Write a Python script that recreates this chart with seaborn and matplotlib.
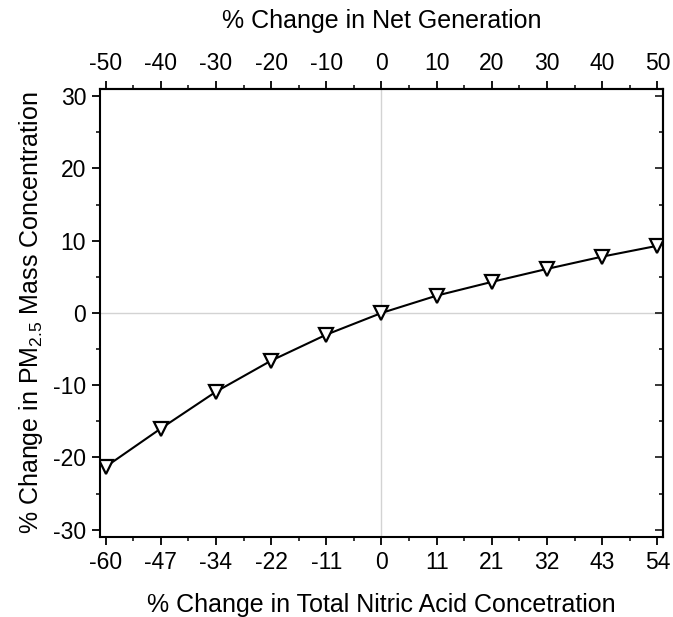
import numpy as np
import pandas as pd
import matplotlib
matplotlib.use("Agg")
import matplotlib.pyplot as plt
import seaborn as sns
from matplotlib.ticker import MultipleLocator

# data
net_generation = [-50, -40, -30, -20, -10, 0, 10, 20, 30, 40, 50]
nitric_labels = ["-60", "-47", "-34", "-22", "-11", "0", "11", "21", "32", "43", "54"]
pm25_change = [-21.3, -16.0, -10.9, -6.6, -3.0, 0.0, 2.4, 4.3, 6.1, 7.8, 9.3]

sns.set_theme(style="ticks")
plt.rcParams['font.family'] = ['Liberation Sans', 'DejaVu Sans']
plt.rcParams['mathtext.fontset'] = 'custom'
plt.rcParams['mathtext.rm'] = 'Liberation Sans'
plt.rcParams['mathtext.it'] = 'Liberation Sans'
plt.rcParams['axes.unicode_minus'] = False
plt.rcParams['text.color'] = 'black'
plt.rcParams['axes.labelcolor'] = 'black'

df = pd.DataFrame({'gen': net_generation, 'pm': pm25_change})

fig = plt.figure(figsize=(6.73, 6.17), dpi=100)
ax = fig.add_axes([0.1486, 0.1297, 0.8365, 0.7261])

# reference lines at zero
ax.axvline(0, color='#d3d3d3', lw=1, zorder=0)
ax.axhline(0, color='#d3d3d3', lw=1, zorder=0)

sns.lineplot(data=df, x='gen', y='pm', ax=ax, color='black', lw=1.5,
             marker='v', markersize=10, markerfacecolor='white',
             markeredgecolor='black', markeredgewidth=1.6)

ax.set_xlim(-51, 51)
ax.set_ylim(-31, 31)

ax.set_xticks(net_generation)
ax.set_xticklabels(nitric_labels)
ax.xaxis.set_minor_locator(MultipleLocator(5))
ax.set_yticks([-30, -20, -10, 0, 10, 20, 30])
ax.yaxis.set_minor_locator(MultipleLocator(5))

for s in ax.spines.values():
    s.set_linewidth(1.5)
    s.set_color('black')

ax.tick_params(which='major', direction='out', length=6, width=1.3,
               labelsize=16.5, colors='black', pad=4)
ax.tick_params(which='minor', direction='out', length=3, width=1.3)
ax.tick_params(axis='y', right=False)

ax.set_xlabel('% Change in Total Nitric Acid Concetration', fontsize=18, labelpad=14)
ax.set_ylabel('% Change in PM$_{2.5}$ Mass Concentration', fontsize=18, labelpad=6)

# top axis: net generation
top = ax.secondary_xaxis('top')
top.set_xticks(net_generation)
top.xaxis.set_minor_locator(MultipleLocator(5))
top.tick_params(which='major', direction='out', length=6, width=1.3,
                labelsize=16.5, colors='black', pad=4)
top.tick_params(which='minor', direction='out', length=3, width=1.3)
top.spines['top'].set_linewidth(1.5)
top.set_xlabel('% Change in Net Generation', fontsize=18, labelpad=17)

# right axis: inward ticks only
right = ax.secondary_yaxis('right')
right.set_yticks([-30, -20, -10, 0, 10, 20, 30])
right.yaxis.set_minor_locator(MultipleLocator(5))
right.tick_params(which='major', direction='in', length=6, width=1.3, labelright=False)
right.tick_params(which='minor', direction='in', length=3, width=1.3)
right.spines['right'].set_linewidth(1.5)

fig.savefig('out.png', dpi=100)
